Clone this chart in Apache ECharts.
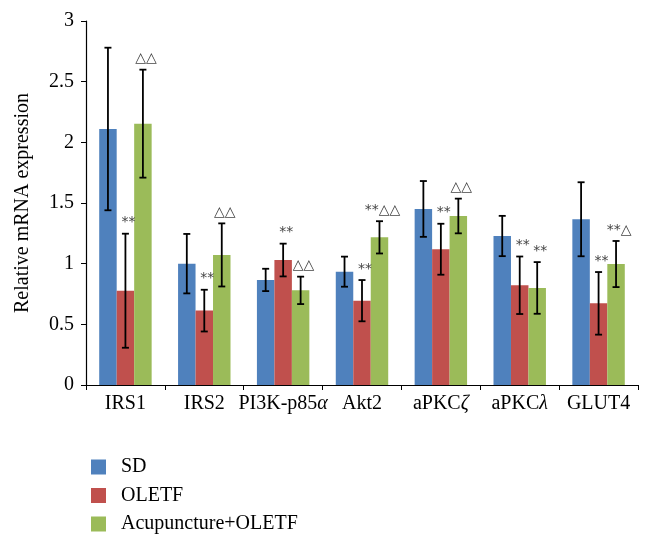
<!DOCTYPE html>
<html>
<head>
<meta charset="utf-8">
<script src="https://cdn.jsdelivr.net/npm/echarts@6/dist/echarts.min.js"></script>
<style>html,body{margin:0;padding:0;background:#fff}#c{width:652px;height:549px}</style>
</head>
<body>
<div id="c"></div>
<script>
var categories = ['IRS1', 'IRS2', 'PI3K-p85α', 'Akt2', 'aPKCζ', 'aPKCλ', 'GLUT4'];
var seriesNames = ['SD', 'OLETF', 'Acupuncture+OLETF'];
var sdMean = [2.11, 1.00, 0.866, 0.934, 1.451, 1.228, 1.366];
var sdErr = [0.67, 0.245, 0.092, 0.124, 0.23, 0.166, 0.305];
var oletfMean = [0.777, 0.613, 1.03, 0.695, 1.119, 0.822, 0.673];
var oletfErr = [0.47, 0.172, 0.135, 0.17, 0.21, 0.237, 0.258];
var acuMean = [2.154, 1.072, 0.78, 1.217, 1.393, 0.80, 0.997];
var acuErr = [0.445, 0.26, 0.113, 0.133, 0.143, 0.213, 0.19];
var sdMarks = ['', '', '', '', '', '', ''];
var oletfMarks = ['**', '**', '**', '**', '**', '**', '**'];
var acuMarks = ['△△', '△△', '△△', '**△△', '△△', '**', '**△'];
var colors = ['#4F81BD', '#C0504D', '#9BBB59'];

var means = [sdMean, oletfMean, acuMean];
var errs = [sdErr, oletfErr, acuErr];
var marks = [sdMarks, oletfMarks, acuMarks];
var GAP = 0.335;
var SERIF = '"Liberation Serif", "DejaVu Serif", serif';

var chart = echarts.init(document.getElementById('c'));
var series = [];
seriesNames.forEach(function (name, s) {
  series.push({
    name: name,
    type: 'bar',
    data: means[s],
    barGap: '0%',
    barCategoryGap: (GAP * 100) + '%',
    itemStyle: { color: colors[s] },
    z: 2
  });
});
seriesNames.forEach(function (name, s) {
  var data = means[s].map(function (v, i) { return [i, v, errs[s][i]]; });
  series.push({
    type: 'custom',
    name: name + ' err',
    data: data,
    z: 5,
    silent: true,
    encode: { x: 0, y: 1 },
    renderItem: function (params, api) {
      var i = api.value(0), v = api.value(1), e = api.value(2);
      var catW = api.size([1, 0])[0];
      var bw = catW * (1 - GAP) / 3;
      var center = api.coord([i, v]);
      var x = center[0] + (s - 1) * bw;
      var top = api.coord([i, v + e])[1];
      var bot = api.coord([i, v - e])[1];
      var cap = 3.5;
      var st = { stroke: '#000', lineWidth: 1.8 };
      var children = [
        { type: 'line', shape: { x1: x, y1: top, x2: x, y2: bot }, style: st },
        { type: 'line', shape: { x1: x - cap, y1: top, x2: x + cap, y2: top }, style: st },
        { type: 'line', shape: { x1: x - cap, y1: bot, x2: x + cap, y2: bot }, style: st }
      ];
      var m = marks[s][params.dataIndex];
      if (m) {
        children.push({
          type: 'text',
          style: {
            text: m,
            x: x + 3,
            y: top - 4,
            textAlign: 'center',
            textVerticalAlign: 'bottom',
            fill: '#444',
            font: '14px "DejaVu Sans", sans-serif'
          }
        });
      }
      return { type: 'group', children: children };
    }
  });
});

chart.setOption({
  animation: false,
  backgroundColor: '#fff',
  grid: { left: 86, right: 14, top: 21, bottom: 164, containLabel: false },
  legend: {
    orient: 'vertical',
    left: 86,
    top: 452,
    data: seriesNames,
    itemWidth: 15,
    itemHeight: 15,
    itemGap: 8.5,
    icon: 'rect',
    textStyle: { fontFamily: SERIF, fontSize: 20, color: '#000', padding: [0, 0, 0, 10] }
  },
  xAxis: {
    type: 'category',
    data: categories,
    axisLine: { lineStyle: { color: '#000', width: 1.2 } },
    axisTick: { show: true, length: 5, lineStyle: { color: '#000' } },
    axisLabel: {
      color: '#000', fontFamily: SERIF, fontSize: 20, margin: 9, interval: 0,
      formatter: function (v) { return v.replace(/([αζλ])/g, '{g|$1}'); },
      rich: { g: { fontFamily: SERIF, fontSize: 20, fontStyle: 'italic', color: '#000' } }
    }
  },
  yAxis: {
    type: 'value',
    min: 0, max: 3, interval: 0.5,
    name: 'Relative mRNA expression',
    nameLocation: 'middle',
    nameGap: 53,
    nameTextStyle: { fontFamily: SERIF, fontSize: 20, color: '#000' },
    axisLine: { show: true, lineStyle: { color: '#000', width: 1.2 } },
    axisTick: { show: true, length: 5, lineStyle: { color: '#000' } },
    splitLine: { show: false },
    axisLabel: { color: '#000', fontFamily: SERIF, fontSize: 20, margin: 12 }
  },
  series: series
});
</script>
</body>
</html>
